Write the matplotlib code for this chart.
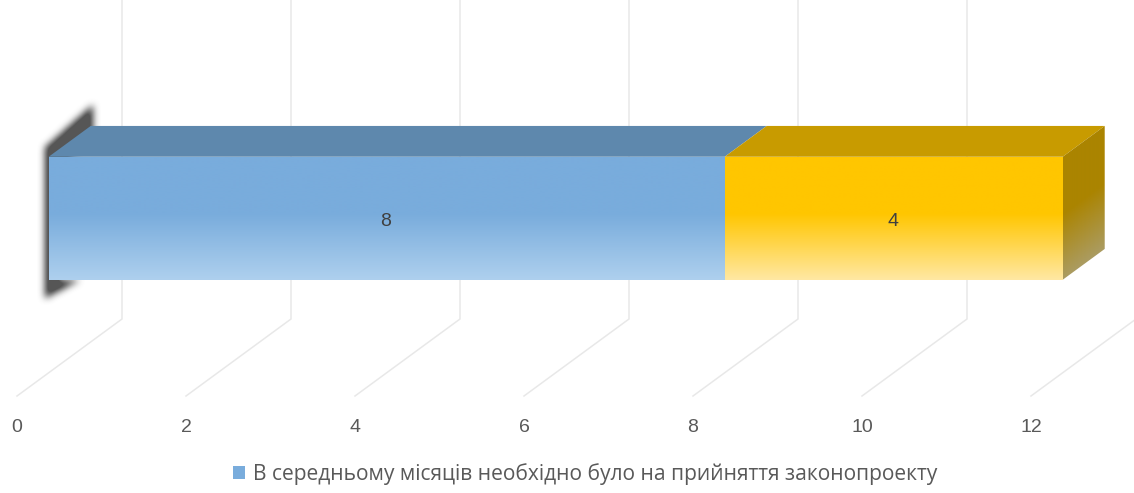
import numpy as np
import matplotlib
matplotlib.use("Agg")
import matplotlib.pyplot as plt
from matplotlib.patches import Polygon, Patch
from matplotlib.path import Path
from matplotlib.colors import to_rgb

# --- data ---
series_values = [8, 4]
series_names = ["В середньому місяців необхідно було на прийняття законопроекту", ""]
tick_values = [0, 2, 4, 6, 8, 10, 12]

front_solid = ["#79acdc", "#ffc600"]
front_light = ["#aed0ee", "#ffe8a3"]
top_colors = ["#5e88ad", "#c89b00"]
side_solid, side_light = "#ab8400", "#ab9c62"
grid_color = "#e8e8e8"
text_color = "#595959"

W, H = 1134, 493
fig = plt.figure(figsize=(W / 100, H / 100), dpi=100)
ax = fig.add_axes([0, 0, 1, 1])
ax.axis("off")

# oblique projection: value, depth (0..1), height above floor -> pixels
X0, Y0, UNIT, DX, DY = 17.0, 396.0, 84.5, 105.0, 77.0
def proj(v, d=0.0, h=0.0):
    return X0 + UNIT * v + DX * d, Y0 - DY * d - h

D_FRONT, D_BACK = 0.302, 0.702
H_LOW, H_HIGH = 93.0, 216.0
WALL_TOP = 1000.0

# gridlines
for t in tick_values:
    x = [proj(t)[0], proj(t, 1)[0], proj(t, 1)[0]]
    y = [proj(t)[1], proj(t, 1)[1], proj(t, 1, WALL_TOP)[1]]
    ax.plot(x, y, color=grid_color, lw=1.1, zorder=1, solid_joinstyle="miter")
    ax.text(proj(t)[0], 428, str(t), ha="center", va="center",
            fontsize=14, color=text_color, family="Liberation Sans")

# soft shadow behind left end of the bar (blurred mask)
sx, sy = proj(0, D_FRONT, H_HIGH)
bx, by = proj(0, D_BACK, H_HIGH)
lx, ly = proj(0, D_FRONT, H_LOW)
shadow = [(lx - 4, ly + 18), (sx - 4, sy - 10), (bx + 2, by - 22),
          (bx + 2, by + 12), (sx + 10, sy + 10), (lx + 10, ly), (lx + 30, ly)]
gx, gy = np.meshgrid(np.arange(0, 150), np.arange(60, 340))
mask = Path(shadow).contains_points(np.c_[gx.ravel(), gy.ravel()]).reshape(gx.shape).astype(float)
kernel = np.ones(7) / 7
for _ in range(3):
    mask = np.apply_along_axis(lambda r: np.convolve(r, kernel, mode="same"), 0, mask)
    mask = np.apply_along_axis(lambda r: np.convolve(r, kernel, mode="same"), 1, mask)
rgba = np.zeros(mask.shape + (4,))
rgba[..., :3] = 0.25
rgba[..., 3] = np.clip(mask * 1.1, 0, 0.88)
ax.imshow(rgba, extent=(0, 150, 340, 60), aspect="auto", zorder=2, interpolation="bilinear")

def gradient_face(corners, c_solid, c_light, ytop, ybot, skew=0.0, x_ref=0.0, z=3):
    xs = [c[0] for c in corners]
    ys = [c[1] for c in corners]
    x0, x1, y0, y1 = min(xs), max(xs), min(ys), max(ys)
    nx, ny = max(int(x1 - x0) + 1, 2), max(int(y1 - y0) + 1, 2)
    gx, gy = np.meshgrid(np.linspace(x0, x1, nx), np.linspace(y0, y1, ny))
    t = (gy + skew * (gx - x_ref) - ytop) / (ybot - ytop)
    f = np.clip((t - 0.46) / 0.54, 0, 1)[..., None]
    img = np.array(to_rgb(c_solid)) * (1 - f) + np.array(to_rgb(c_light)) * f
    im = ax.imshow(img, extent=(x0, x1, y1, y0), aspect="auto", zorder=z,
                   interpolation="bilinear")
    poly = Polygon(corners, closed=True, transform=ax.transData, fc="none", ec="none")
    ax.add_patch(poly)
    im.set_clip_path(poly)

# stacked 3D bar
left = 0
for i, val in enumerate(series_values):
    right = left + val
    ftl = proj(left, D_FRONT, H_HIGH); ftr = proj(right, D_FRONT, H_HIGH)
    fbr = proj(right, D_FRONT, H_LOW); fbl = proj(left, D_FRONT, H_LOW)
    btl = proj(left, D_BACK, H_HIGH); btr = proj(right, D_BACK, H_HIGH)
    ax.add_patch(Polygon([ftl, ftr, btr, btl], closed=True, fc=top_colors[i], ec="none", zorder=3))
    gradient_face([ftl, ftr, fbr, fbl], front_solid[i], front_light[i], ftl[1], fbl[1])
    ax.text((ftl[0] + ftr[0]) / 2 - 1, 221, str(val), ha="center", va="center",
            fontsize=14, color="#404040", family="Liberation Sans", zorder=5)
    left = right

# right end cap
bbr = proj(left, D_BACK, H_LOW)
gradient_face([ftr, btr, bbr, fbr], side_solid, side_light, ftr[1], fbr[1],
              skew=(ftr[1] - btr[1]) / (btr[0] - ftr[0]), x_ref=ftr[0])

ax.set_xlim(0, W)
ax.set_ylim(H, 0)

handles = [Patch(facecolor=front_solid[0], edgecolor="none", label=series_names[0])]
leg = ax.legend(handles=handles, loc="center", bbox_to_anchor=(585 / W, 1 - 474 / H),
                frameon=False, handlelength=0.6, handleheight=0.6, handletextpad=0.35,
                prop={"family": "Open Sans", "size": 15.1})
for t in leg.get_texts():
    t.set_color(text_color)

fig.savefig("out.png", dpi=100)
